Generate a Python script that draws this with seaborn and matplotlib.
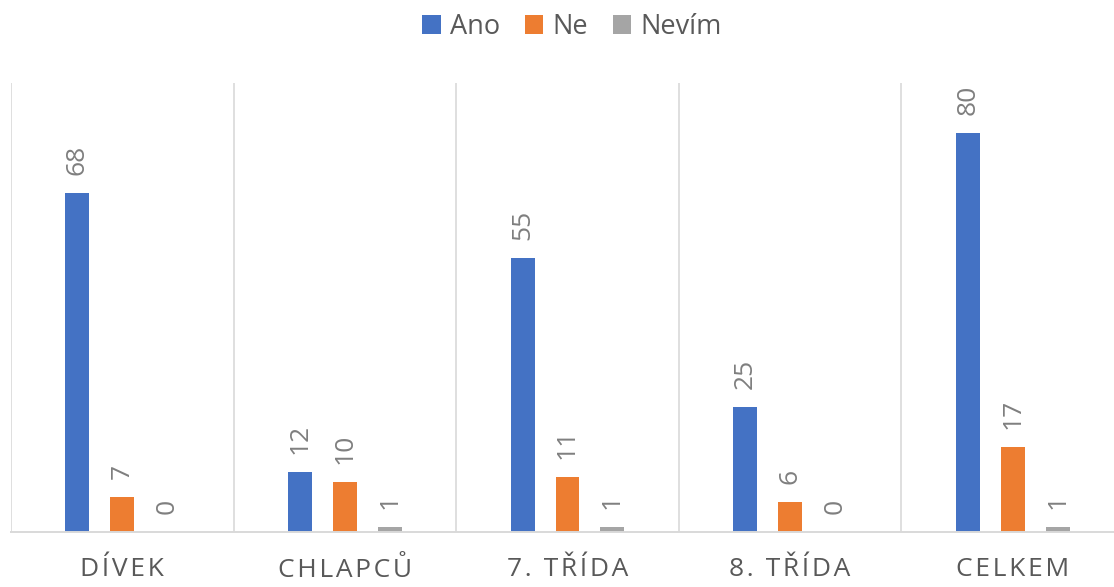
import matplotlib
matplotlib.use("Agg")
import matplotlib.pyplot as plt
import seaborn as sns
import pandas as pd
from matplotlib.patches import Patch

categories = ["DÍVEK", "CHLAPCŮ", "7. TŘÍDA", "8. TŘÍDA", "CELKEM"]
series = ["Ano", "Ne", "Nevím"]
ano = [68, 12, 55, 25, 80]
ne = [7, 10, 11, 6, 17]
nevim = [0, 1, 1, 0, 1]
colors = ["#4472C4", "#ED7D31", "#A5A5A5"]

rows = []
for name, vals in zip(series, [ano, ne, nevim]):
    for c, v in zip(categories, vals):
        rows.append({"cat": c, "series": name, "val": v})
df = pd.DataFrame(rows)

sns.set_style("white")
plt.rcParams["font.family"] = ["Open Sans", "DejaVu Sans"]

fig = plt.figure(figsize=(11.14, 5.87), dpi=100)
ax = fig.add_axes([11 / 1114, 55 / 587, 1113 / 1114, 449 / 587])

sns.barplot(data=df, x="cat", y="val", hue="series", order=categories,
            hue_order=series, palette=colors, saturation=1, width=0.606,
            gap=0.467, legend=False, ax=ax, linewidth=0, errorbar=None)

ax.set_xlim(-0.5, 4.5)
ax.set_ylim(0, 90)
ax.set_yticks([])
ax.set_xlabel("")
ax.set_ylabel("")

for b in [-0.5, 0.5, 1.5, 2.5, 3.5]:
    ax.axvline(b, color="#D9D9D9", lw=1.2, zorder=0)

for s in ["top", "right", "left"]:
    ax.spines[s].set_visible(False)
ax.spines["bottom"].set_color("#D9D9D9")
ax.spines["bottom"].set_linewidth(1.4)

spaced = ["\u200a".join(list(c)) for c in categories]
ax.set_xticks(range(len(categories)))
ax.set_xticklabels(spaced, fontsize=19, color="#595959")
ax.tick_params(axis="x", length=0, pad=18)

for cont in ax.containers:
    ax.bar_label(cont, rotation=90, padding=13, fontsize=19, color="#7F7F7F")

handles = [Patch(facecolor=c, edgecolor="none", label=s) for c, s in zip(colors, series)]
fig.legend(handles=handles, loc="center", bbox_to_anchor=(572 / 1114, 1 - 27 / 587),
           ncol=3, frameon=False, fontsize=19.5, handlelength=0.68, handleheight=0.72,
           handletextpad=0.35, columnspacing=0.9, labelcolor="#595959")

fig.savefig("out.png", dpi=100)
